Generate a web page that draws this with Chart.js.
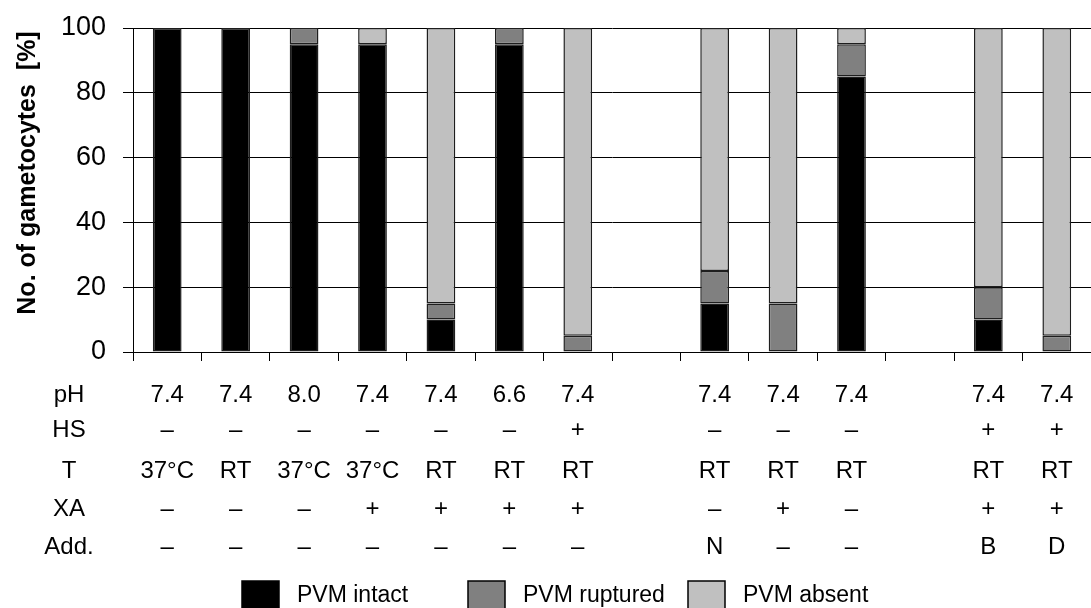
<!DOCTYPE html>
<html>
<head>
<meta charset="utf-8">
<script src="https://cdn.jsdelivr.net/npm/chart.js@4.4.0/dist/chart.umd.min.js"></script>
<style>
  html, body { margin: 0; padding: 0; background: #fff; overflow: hidden; }
  #wrap { width: 1091px; height: 608px; position: relative; }
</style>
</head>
<body>
<div id="wrap"><canvas id="chart"></canvas></div>
<script>
// Experimental conditions (slots 8 and 12 are spacer gaps between groups)
const categories = ['1', '2', '3', '4', '5', '6', '7', '', '8', '9', '10', '', '11', '12'];

// Percentage of gametocytes per PVM state
const pvmIntact    = [100, 100, 95, 95, 10, 95, null, null, 15, null, 85, null, 10, null];
const pvmRuptured  = [null, null, 5, null, 5, 5, 5, null, 10, 15, 10, null, 10, 5];
const pvmAbsent    = [null, null, null, 5, 85, null, 95, null, 75, 85, 5, null, 80, 95];

// Condition table below the bars
const rowLabels = ['pH', 'HS', 'T', 'XA', 'Add.'];
const rowPH  = ['7.4', '7.4', '8.0', '7.4', '7.4', '6.6', '7.4', '', '7.4', '7.4', '7.4', '', '7.4', '7.4'];
const rowHS  = ['–', '–', '–', '–', '–', '–', '+', '', '–', '–', '–', '', '+', '+'];
const rowT   = ['37°C', 'RT', '37°C', '37°C', 'RT', 'RT', 'RT', '', 'RT', 'RT', 'RT', '', 'RT', 'RT'];
const rowXA  = ['–', '–', '–', '+', '+', '+', '+', '', '–', '+', '–', '', '+', '+'];
const rowAdd = ['–', '–', '–', '–', '–', '–', '–', '', 'N', '–', '–', '', 'B', 'D'];

const yTicks = [0, 20, 40, 60, 80, 100];
const yTitle = 'No. of gametocytes  [%]';

const tableRows = [rowPH, rowHS, rowT, rowXA, rowAdd];
const tableRowY = [395, 430, 471, 509, 547];

const FONT = '"Liberation Sans", Arial, sans-serif';

const annotations = {
  id: 'annotations',
  afterDraw(chart) {
    const ctx = chart.ctx;
    const x = chart.scales.x;
    ctx.save();
    ctx.fillStyle = '#000';

    // Y axis title
    ctx.save();
    ctx.translate(28, 173);
    ctx.rotate(-Math.PI / 2);
    ctx.font = 'bold 25px ' + FONT;
    ctx.textAlign = 'center';
    ctx.textBaseline = 'middle';
    ctx.fillText(yTitle, 0, 0);
    ctx.restore();

    // Condition table
    ctx.font = '24px ' + FONT;
    ctx.textAlign = 'center';
    ctx.textBaseline = 'middle';
    rowLabels.forEach((lab, r) => {
      ctx.fillText(lab, 69, tableRowY[r]);
      tableRows[r].forEach((txt, i) => {
        if (txt) ctx.fillText(txt, x.getPixelForValue(i), tableRowY[r]);
      });
    });

    // Legend
    const legendBoxes = [242, 468, 688];
    ctx.font = '23px ' + FONT;
    ctx.textAlign = 'left';
    chart.data.datasets.forEach((ds, i) => {
      const bx = legendBoxes[i];
      ctx.fillStyle = ds.backgroundColor;
      ctx.fillRect(bx, 581, 37, 34);
      ctx.strokeStyle = '#000';
      ctx.lineWidth = 1.5;
      ctx.strokeRect(bx, 581, 37, 34);
      ctx.fillStyle = '#000';
      ctx.fillText(ds.label, bx + 55, 596);
    });
    ctx.restore();
  }
};

new Chart(document.getElementById('chart'), {
  type: 'bar',
  data: {
    labels: categories,
    datasets: [
      { label: 'PVM intact',   data: pvmIntact,   backgroundColor: '#000000' },
      { label: 'PVM ruptured', data: pvmRuptured, backgroundColor: '#808080' },
      { label: 'PVM absent',   data: pvmAbsent,   backgroundColor: '#c0c0c0' }
    ]
  },
  options: {
    responsive: true,
    maintainAspectRatio: false,
    animation: false,
    datasets: {
      bar: {
        borderColor: '#1e1e1e',
        borderWidth: 1.5,
        borderSkipped: false,
        categoryPercentage: 1,
        barPercentage: 0.42
      }
    },
    layout: { padding: { top: 28, left: 0, right: 0, bottom: 0 } },
    plugins: { legend: { display: false }, tooltip: { enabled: false } },
    scales: {
      x: {
        stacked: true,
        afterFit(scale) { scale.height = 256; scale.paddingLeft = 0; scale.paddingRight = 0; },
        grid: { drawOnChartArea: false, drawTicks: true, tickLength: 9, color: '#000', offset: true },
        border: { color: '#000', width: 1 },
        ticks: { display: false }
      },
      y: {
        stacked: true,
        min: 0,
        max: 100,
        afterFit(scale) { scale.width = 133; scale.paddingTop = 0; scale.paddingBottom = 0; },
        afterBuildTicks(scale) { scale.ticks = yTicks.map(v => ({ value: v })); },
        grid: { color: '#000', lineWidth: 1, tickLength: 10 },
        border: { color: '#000', width: 1 },
        ticks: { font: { family: FONT, size: 27 }, color: '#000', padding: 17 }
      }
    }
  },
  plugins: [annotations]
});
</script>
</body>
</html>
